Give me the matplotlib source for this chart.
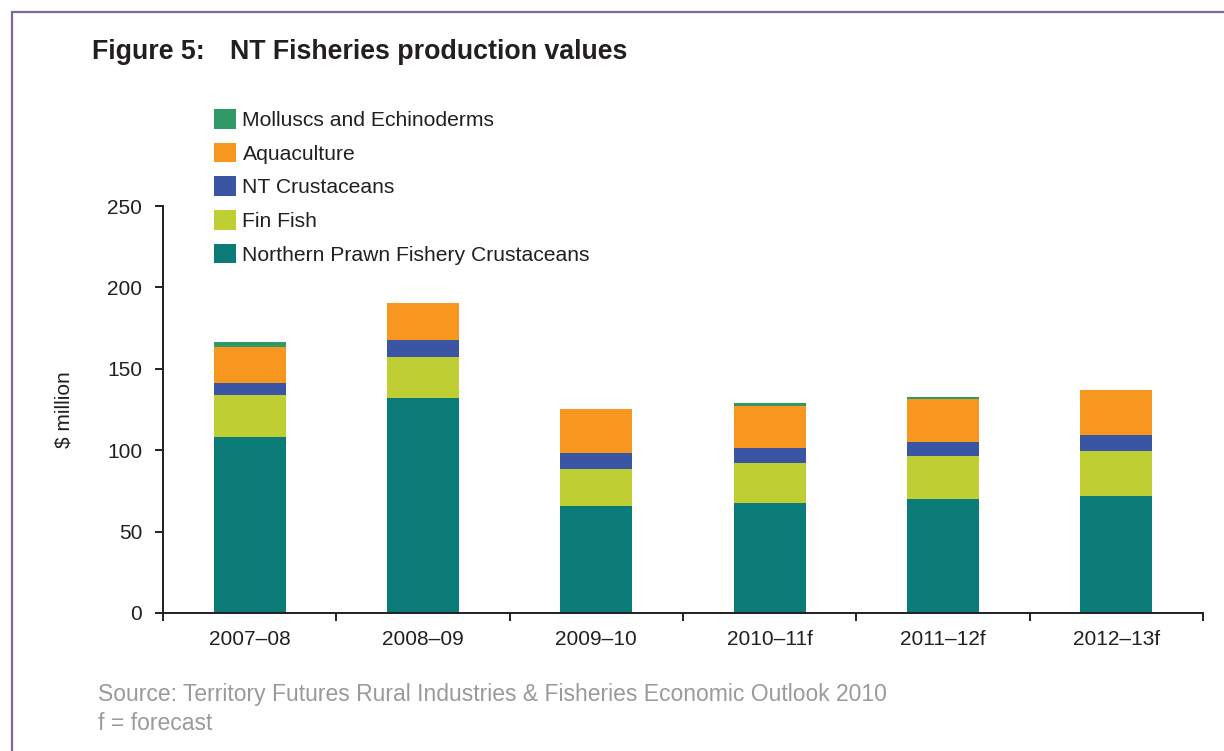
import numpy as np
import matplotlib
matplotlib.use("Agg")
import matplotlib.pyplot as plt
from matplotlib.patches import Rectangle, Patch

plt.rcParams['font.family'] = ['Liberation Sans', 'DejaVu Sans']

# Dane ($ million)
categories = ['2007–08', '2008–09', '2009–10', '2010–11f', '2011–12f', '2012–13f']
npf_crustaceans = [108.3, 131.9, 65.7, 67.8, 69.8, 71.9]
fin_fish = [25.5, 25.6, 22.6, 24.5, 26.4, 27.6]
nt_crustaceans = [7.3, 10.0, 10.2, 9.1, 9.0, 9.8]
aquaculture = [22.5, 22.7, 26.6, 25.7, 26.1, 27.7]
molluscs = [2.9, 0.0, 0.0, 1.9, 1.6, 0.0]

series = [
    ("Northern Prawn Fishery Crustaceans", npf_crustaceans, "#0b7b78"),
    ("Fin Fish", fin_fish, "#bfce32"),
    ("NT Crustaceans", nt_crustaceans, "#3a55a4"),
    ("Aquaculture", aquaculture, "#f7971f"),
    ("Molluscs and Echinoderms", molluscs, "#2f9968"),
]

AXIS_COLOR = "#231f20"
TEXT_COLOR = "#231f20"
W, H = 1224, 751

fig = plt.figure(figsize=(W / 100, H / 100), dpi=100)
fig.patch.set_facecolor("white")

# Ramka wokol rysunku
fig.add_artist(Rectangle((12 / W, -0.05), 1.2, 1 - 12 / H + 0.05, transform=fig.transFigure,
                         fill=False, edgecolor="#7c69a3", linewidth=1.6))

ax = fig.add_axes([163 / W, 1 - 613 / H, 1040 / W, 407 / H])

x = np.arange(len(categories))
bottom = np.zeros(len(categories))
for name, values, color in series:
    vals = np.array(values)
    ax.bar(x, vals, width=0.415, bottom=bottom, color=color, linewidth=0, label=name)
    bottom += vals

ax.set_xlim(-0.5, len(categories) - 0.5)
ax.set_ylim(0, 250)
ax.set_yticks(np.arange(0, 251, 50))
ax.set_xticks(x)
ax.set_xticklabels(categories)
ax.set_xticks(np.arange(-0.5, len(categories), 1.0), minor=True)
ax.tick_params(axis='x', which='major', length=0, pad=12, labelsize=15, labelcolor=TEXT_COLOR)
ax.tick_params(axis='x', which='minor', length=6, width=1.4, direction='out', color=AXIS_COLOR)
ax.tick_params(axis='y', length=6, width=1.4, direction='out', pad=9, labelsize=15,
               color=AXIS_COLOR, labelcolor=TEXT_COLOR)

for side in ['top', 'right']:
    ax.spines[side].set_visible(False)
for side in ['left', 'bottom']:
    ax.spines[side].set_color(AXIS_COLOR)
    ax.spines[side].set_linewidth(1.4)

ax.set_ylabel("$ million", fontsize=15, color=TEXT_COLOR, labelpad=24)

# Legenda w odwrotnej kolejnosci (od gory)
handles = [Patch(facecolor=c, edgecolor='none', label=n) for n, _, c in reversed(series)]
fig.legend(handles=handles, loc='upper left', bbox_to_anchor=(214 / W, 1 - 109 / H),
           frameon=False, fontsize=15.2, handlelength=1.05, handleheight=1.05,
           handletextpad=0.3, labelspacing=0.6, borderpad=0, borderaxespad=0,
           labelcolor=TEXT_COLOR)

# Tytul
fig.text(92 / W, 1 - 59 / H, "Figure 5:", fontsize=19.3, fontweight='bold',
         color=TEXT_COLOR, va='baseline')
fig.text(230 / W, 1 - 59 / H, "NT Fisheries production values", fontsize=19.3,
         fontweight='bold', color=TEXT_COLOR, va='baseline')

# Zrodlo
fig.text(98 / W, 1 - 694 / H,
         "Source: Territory Futures Rural Industries & Fisheries Economic Outlook 2010",
         fontsize=16.5, color="#9a9a9a", va='center')
fig.text(98 / W, 1 - 724 / H, "f = forecast", fontsize=16.5, color="#9a9a9a", va='center')

fig.savefig("out.png", dpi=100)
